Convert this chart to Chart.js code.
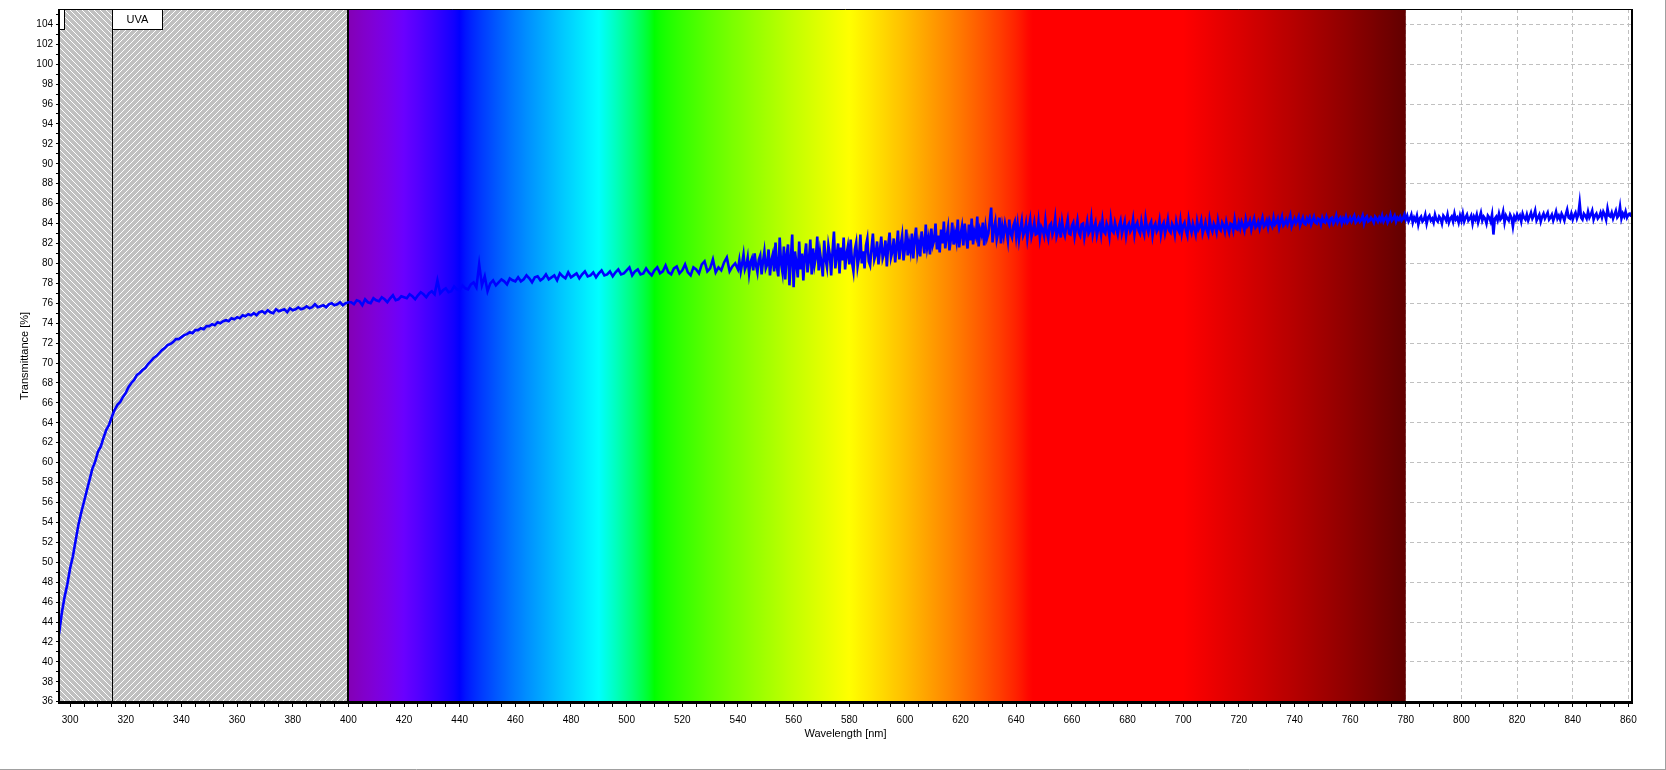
<!DOCTYPE html>
<html><head><meta charset="utf-8">
<script src="https://cdn.jsdelivr.net/npm/chart.js@4.4.1/dist/chart.umd.min.js"></script>
<style>html,body{margin:0;padding:0;background:#fff;overflow:hidden}#wrap{width:1666px;height:770px;position:relative}</style>
</head><body><div id="wrap"><canvas id="c"></canvas></div>
<script>
// ---- data (transmittance %) ----
const uvbStart = 296, uvbStep = 1;
const uvbValues = [42.8,44.9,46.5,47.8,49.4,50.6,52.2,53.8,55.0,56.1,57.2,58.3,59.4,60.1,61.1,61.6,62.5,63.3,63.8,64.6];
const uvaStart = 316, uvaStep = 1;
const uvaValues = [
65.3,65.8,66.1,66.6,67.0,67.6,68.0,68.3,68.8,69.0,
69.3,69.5,69.9,70.2,70.5,70.7,71.0,71.3,71.5,71.8,
71.9,72.1,72.4,72.4,72.6,72.8,72.9,73.1,73.0,73.3,
73.3,73.5,73.4,73.7,73.7,73.9,73.8,74.1,74.0,74.2,
74.3,74.2,74.5,74.4,74.6,74.5,74.8,74.7,74.9,74.8,
75.0,74.8,75.1,75.2,75.0,75.3,75.1,75.0,75.4,75.2,
75.3,75.4,75.1,75.5,75.3,75.4,75.6,75.4,75.5,75.7,
75.5,75.6,75.9,75.6,75.7,75.8,75.6,75.9,76.0,75.8,
75.9,76.1,75.8,76.0,76.1];
const violetStart = 401, violetStep = 1;
const violetValues = [
76.1,75.9,76.3,76.2,75.8,76.4,76.1,76.0,76.5,76.3,
76.2,76.6,76.4,76.1,76.5,76.8,76.3,76.4,76.7,76.6,
76.5,76.9,76.7,76.4,76.8,77.1,76.9,76.6,77.0,77.2,
76.9,78.3,77.0,77.3,77.5,77.1,77.2,77.7,77.4,77.3,
77.8,77.5,77.4,77.9,78.1,77.6,79.9,77.8,78.7,77.2,
78.0,78.3,77.8,78.1,78.4,78.2,77.9,78.5,78.3,78.2,
78.6,78.2,78.4,78.8,78.5,78.1,78.6,78.7,78.3,78.5,
78.9,78.4,78.6,78.8,78.3,79.0,78.7,78.5,79.1,78.6];
const greenStart = 481, greenStep = 1;
const greenValues = [
78.8,79.0,78.5,78.9,79.2,78.7,78.8,79.1,78.6,79.0,
79.3,78.8,78.9,79.2,78.7,79.1,79.4,78.9,79.0,79.3,
79.6,78.8,79.2,79.4,78.9,79.0,79.5,79.1,78.8,79.3,
79.6,79.0,79.2,79.8,79.1,78.9,79.5,79.7,79.0,79.3,
79.9,79.1,78.8,79.6,79.4,79.0,79.9,80.2,79.2,79.5,
80.4,79.1,79.6,79.3,80.1,80.6,79.2,79.7,80.0,79.4];
const yellowStart = 540.5, yellowStep = 0.5;
const yellowValues = [
80.3,79.2,80.0,80.9,79.4,79.8,80.6,79.0,80.1,80.5,
79.3,81.0,79.8,79.1,80.4,80.8,78.9,80.2,81.2,79.5,
79.9,81.4,78.8,80.3,80.9,79.2,82.1,79.6,78.7,82.6,
80.0,79.1,81.7,78.4,80.8,81.9,77.8,80.5,82.9,77.6,
81.2,80.0,78.6,82.2,79.4,81.0,78.3,80.7,82.0,79.1,
80.3,82.4,78.9,81.5,79.8,80.6,82.7,79.3,81.1,80.0,
78.7,82.3,80.4,79.6,81.8,80.9,78.8,81.3,83.2,79.5,
80.8,82.0,79.0,81.6,80.3,82.6,79.4,80.9,81.7,79.9,
82.4,80.1,79.2,81.4,82.1,79.7,80.6,82.9,80.0,81.2,
79.5,81.8,82.5,80.2,79.8,81.5,83.0,80.4,80.9,82.2,
79.9,81.3,82.7,80.5,81.0,82.3,79.7,81.8,83.1,80.6,
81.2,82.5,80.1,81.6,83.3,80.4,81.9,82.8,80.3,81.5,
83.4,80.8,82.1,81.2,83.0,80.5,82.4,83.6,81.1,82.0,
80.7,83.2,82.2,81.0,83.9,81.6,82.5,80.9,83.5,81.8,
82.3,84.0,81.4,82.8,81.1,83.4,82.0,84.2,81.5,82.7,
83.6,81.3,82.4,84.1,81.9,83.0,82.2,84.4,81.6,82.9,
83.7,81.8,84.0,82.6,81.5,83.9,82.3,84.5,81.9,83.2,
82.7,84.7,81.7,83.4,82.9,84.1,81.8,83.6,82.5,83.0,
84.3,85.6,82.1,83.5,84.2,82.4,83.1,84.6,82.0,83.7,
82.8,84.0,83.3,82.3,84.4,83.0,82.6,83.8,84.2,82.7];
const redStart = 640.5, redStep = 0.5;
const redValues = [
83.9,82.4,83.5,84.3,82.8,83.2,84.0,82.5,83.6,84.4,
82.7,83.3,84.1,82.9,83.0,84.2,82.6,83.7,83.4,82.8,
84.3,83.1,82.5,83.8,84.0,82.9,83.4,84.5,82.7,83.2,
83.9,82.6,84.2,83.3,82.8,83.7,84.4,83.0,82.9,83.8,
84.1,82.7,83.5,84.3,83.1,82.8,83.9,84.0,82.6,83.4,
84.2,83.0,83.3,84.5,82.9,83.6,84.1,82.8,83.5,83.9,
82.9,84.3,83.2,83.0,84.0,83.6,82.7,84.4,83.3,83.1,
84.1,83.5,82.9,83.8,84.3,83.0,83.6,84.2,82.8,83.7,
84.0,83.2,83.5,84.4,82.9,83.8,84.1,83.3,83.0,84.2,
83.4,82.9,84.5,83.6,83.1,83.9,84.2,82.8,83.7,84.0,
83.2,83.5,84.3,82.9,83.8,84.1,83.0,83.6,84.4,83.3,
83.1,84.0,83.7,82.9,84.2,83.5,83.2,84.3,83.0,83.8,
84.1,83.3,82.8,84.4,83.6,83.1,84.0,83.5,82.9,84.2,
83.4,83.7,84.3,83.0,83.5,84.1,83.3,82.9,84.4,83.6,
83.2,84.0,83.7,83.1,84.3,83.5,83.3,84.1,83.8,83.2,
84.2,83.6,83.1,84.0,83.9,83.3,84.4,83.5,83.4,84.1];
const deepRedStart = 720.5, deepRedStep = 0.5;
const deepRedValues = [
83.5,84.2,83.8,83.3,84.4,83.7,83.9,84.3,83.4,84.0,
84.5,83.6,83.8,84.2,83.5,84.1,84.6,83.7,83.9,84.3,
83.6,84.4,84.0,83.7,84.6,83.9,84.1,84.5,83.6,84.2,
84.7,83.8,84.0,84.4,83.9,84.3,84.8,83.7,84.1,84.5,
84.0,84.3,84.7,83.8,84.2,84.6,84.0,83.9,84.5,84.2,
84.6,83.9,84.3,84.7,84.1,84.0,84.5,84.4,83.9,84.6,
84.2,84.1,84.7,84.3,83.9,84.5,84.6,84.0,84.3,84.8,
84.1,84.4,84.6,84.0,84.5,84.2,84.7,84.1,84.3,84.6,
84.2,84.5,84.8,84.1,84.3,84.6,84.2,84.4,84.8,84.0,
84.5,84.7,84.2,84.3,84.6,84.4,84.1,84.7,84.5,84.2,
84.6,84.3,84.8,84.2,84.5,84.7,84.1,84.4,84.9,84.3,
84.5,84.8,84.2,84.6,84.4,84.7,84.3,84.5,84.9,84.4];
const nirStart = 780.5, nirStep = 0.5;
const nirValues = [
84.8,84.2,84.5,84.9,84.1,84.6,84.3,84.8,83.9,84.5,
84.7,84.2,84.4,84.9,84.0,84.6,84.8,84.3,84.5,84.1,
84.9,84.4,84.2,84.7,84.5,84.0,84.8,84.6,84.3,84.9,
84.1,84.5,84.7,84.2,85.0,84.4,84.6,84.1,84.8,84.3,
85.0,84.2,84.6,84.9,84.3,84.5,84.8,84.0,84.7,84.4,
84.9,84.1,84.6,85.1,84.3,84.7,84.5,84.0,84.8,84.6,
84.2,84.9,82.9,84.5,84.7,84.3,85.0,84.4,84.6,85.2,
84.1,84.8,84.5,84.3,84.9,84.6,83.7,84.7,84.4,84.9,
84.5,84.8,84.2,85.0,84.6,84.4,84.9,84.3,84.7,85.1,
84.5,84.8,85.3,84.3,84.6,84.9,84.2,84.7,85.0,84.5,
84.8,85.1,84.4,84.6,84.9,84.3,84.7,85.2,84.5,84.8,
84.4,85.0,84.7,84.3,84.9,85.4,84.6,84.5,85.0,84.4,
84.8,85.1,84.5,84.9,86.1,84.6,84.4,85.0,84.8,84.5,
85.2,84.6,84.9,85.3,84.4,84.8,85.0,84.5,84.7,85.1,
84.6,85.2,84.9,84.4,85.5,84.8,84.7,85.1,84.5,84.9,
85.3,84.6,84.8,85.7,84.5,85.0,84.7,85.2,84.6,84.9,
85.0,84.7];

// regions
const bandNames = ['UVB', 'UVA'];
const bandStarts = [280, 315];
const bandEnds = [315, 400];
const bandHatch = [-1, 1];          // -1 = "\" , 1 = "/"
const spectrumRange = [400, 780];

// axes
const xMin = 296.0, xMax = 861.3;
const yMin = 35.87, yMax = 105.54;
const xTickStep = 5, xLabelStep = 20;
const yTickStep = 1, yLabelStep = 2, yGridStep = 4, yGridBase = 36;

// ---- build points ----
const segments = [
  [uvbStart, uvbStep, uvbValues], [uvaStart, uvaStep, uvaValues], [violetStart, violetStep, violetValues],
  [greenStart, greenStep, greenValues], [yellowStart, yellowStep, yellowValues], [redStart, redStep, redValues],
  [deepRedStart, deepRedStep, deepRedValues], [nirStart, nirStep, nirValues]
];
const points = [];
segments.forEach(([s, st, vals]) => vals.forEach((v, i) => points.push({x: s + i * st, y: v})));

function specColor(w) {
  let r = 0, g = 0, b = 0;
  if (w < 440) { r = -(w - 440) / 60; b = 1; }
  else if (w < 490) { g = (w - 440) / 50; b = 1; }
  else if (w < 510) { g = 1; b = -(w - 510) / 20; }
  else if (w < 580) { r = (w - 510) / 70; g = 1; }
  else if (w < 645) { r = 1; g = -(w - 645) / 65; }
  else { r = 1; }
  let f = 1;
  if (w < 420) f = 0.3 + 0.7 * (w - 380) / 40;
  else if (w > 700) f = 0.3 + 0.7 * (780 - w) / 80;
  const c = v => Math.round(255 * Math.pow(v * f, 0.8));
  return 'rgb(' + c(r) + ',' + c(g) + ',' + c(b) + ')';
}

function makeHatch(ctx, dir) {
  const n = 6;
  const cv = document.createElement('canvas');
  cv.width = n; cv.height = n;
  const h = cv.getContext('2d');
  h.fillStyle = '#c0c0c0'; h.fillRect(0, 0, n, n);
  h.fillStyle = '#ffffff';
  for (let i = 0; i < n; i++) h.fillRect(i, dir > 0 ? n - 1 - i : i, 1, 1);
  return ctx.createPattern(cv, 'repeat');
}

const FONT = '"Liberation Sans", Arial, sans-serif';

const bandsPlugin = {
  id: 'bands',
  beforeDatasetsDraw(chart) {
    const {ctx, chartArea: a, scales: {x}} = chart;
    ctx.save();
    ctx.beginPath(); ctx.rect(a.left, a.top, a.right - a.left, a.bottom - a.top); ctx.clip();
    const s0 = x.getPixelForValue(spectrumRange[0]), s1 = x.getPixelForValue(spectrumRange[1]);
    const g = ctx.createLinearGradient(s0, 0, s1, 0);
    const span = spectrumRange[1] - spectrumRange[0];
    for (let w = spectrumRange[0]; w <= spectrumRange[1]; w += 2) g.addColorStop((w - spectrumRange[0]) / span, specColor(w));
    ctx.fillStyle = g;
    ctx.fillRect(s0, a.top, s1 - s0, a.bottom - a.top);
    bandNames.forEach((n, i) => {
      const b0 = x.getPixelForValue(bandStarts[i]), b1 = x.getPixelForValue(bandEnds[i]);
      ctx.fillStyle = makeHatch(ctx, bandHatch[i]);
      ctx.fillRect(b0, a.top, b1 - b0, a.bottom - a.top);
    });
    ctx.strokeStyle = '#000';
    bandNames.forEach((n, i) => {
      [bandStarts[i], bandEnds[i]].forEach(v => {
        const wide = v === spectrumRange[0];
        ctx.lineWidth = wide ? 2 : 1;
        const px = Math.round(x.getPixelForValue(v)) + (wide ? 0 : 0.5);
        ctx.beginPath(); ctx.moveTo(px, a.top); ctx.lineTo(px, a.bottom); ctx.stroke();
      });
    });
    ctx.lineWidth = 1;
    ctx.font = '11px ' + FONT; ctx.textAlign = 'center'; ctx.textBaseline = 'middle';
    bandNames.forEach((n, i) => {
      const b0 = Math.round(x.getPixelForValue(bandStarts[i])) + 0.5;
      ctx.fillStyle = '#fff'; ctx.fillRect(b0, a.top + 0.5, 50, 20);
      ctx.strokeRect(b0, a.top + 0.5, 50, 20);
      ctx.fillStyle = '#000'; ctx.fillText(n, b0 + 25, a.top + 11);
    });
    ctx.restore();
  },
  afterDraw(chart) {
    const {ctx, chartArea: a} = chart;
    const line = (x1, y1, x2, y2) => { ctx.beginPath(); ctx.moveTo(x1, y1); ctx.lineTo(x2, y2); ctx.stroke(); };
    ctx.save();
    ctx.strokeStyle = '#000';
    ctx.lineWidth = 1; line(a.left, a.top + 0.5, a.right, a.top + 0.5);
    ctx.lineWidth = 2; line(a.right, a.top, a.right, a.bottom);
    ctx.lineWidth = 2; line(a.left, a.top, a.left, a.bottom);
    ctx.lineWidth = 3; line(a.left - 1, a.bottom - 0.5, a.right + 1, a.bottom - 0.5);
    ctx.strokeStyle = '#a0a0a0'; ctx.lineWidth = 1;
    line(1665.5, 0, 1665.5, 770);
    line(0, 769.5, 1666, 769.5);
    ctx.restore();
  }
};

new Chart(document.getElementById('c'), {
  type: 'line',
  data: { datasets: [{ data: points, borderColor: '#0000ff', borderWidth: 2.6, pointRadius: 0, tension: 0, fill: false }] },
  options: {
    responsive: true, maintainAspectRatio: false, animation: false,
    layout: { padding: { left: 13, top: 8, right: 34, bottom: 25 } },
    plugins: { legend: { display: false }, tooltip: { enabled: false } },
    scales: {
      x: {
        type: 'linear', min: xMin, max: xMax,
        afterFit: s => { s.height = 42; },
        border: { display: false, dash: [4, 3] },
        grid: { color: c => (c.tick && c.tick.value % xLabelStep === 0) ? '#c0c0c0' : 'rgba(0,0,0,0)', tickColor: '#000', tickLength: 4, lineWidth: 1 },
        ticks: { stepSize: xTickStep, autoSkip: false, maxRotation: 0, includeBounds: false, padding: 7, color: '#000',
          font: { family: FONT, size: 10 }, callback: v => (v % xLabelStep === 0 ? String(v) : '') },
        title: { display: true, text: 'Wavelength [nm]', color: '#000', font: { family: FONT, size: 11 }, padding: { top: 0, bottom: 4 } }
      },
      y: {
        type: 'linear', min: yMin, max: yMax,
        afterFit: s => { s.width = 46; },
        border: { display: false, dash: [4, 3] },
        grid: { color: c => (c.tick && (c.tick.value - yGridBase) % yGridStep === 0) ? '#c0c0c0' : 'rgba(0,0,0,0)', tickColor: '#000', tickLength: 3, lineWidth: 1 },
        ticks: { stepSize: yTickStep, autoSkip: false, includeBounds: false, padding: 3, color: '#000',
          font: { family: FONT, size: 10 }, callback: v => (v % yLabelStep === 0 ? String(v) : '') },
        title: { display: true, text: 'Transmittance [%]', color: '#000', font: { family: FONT, size: 11 }, padding: { top: 5, bottom: 0 } }
      }
    }
  },
  plugins: [bandsPlugin]
});
</script></body></html>
